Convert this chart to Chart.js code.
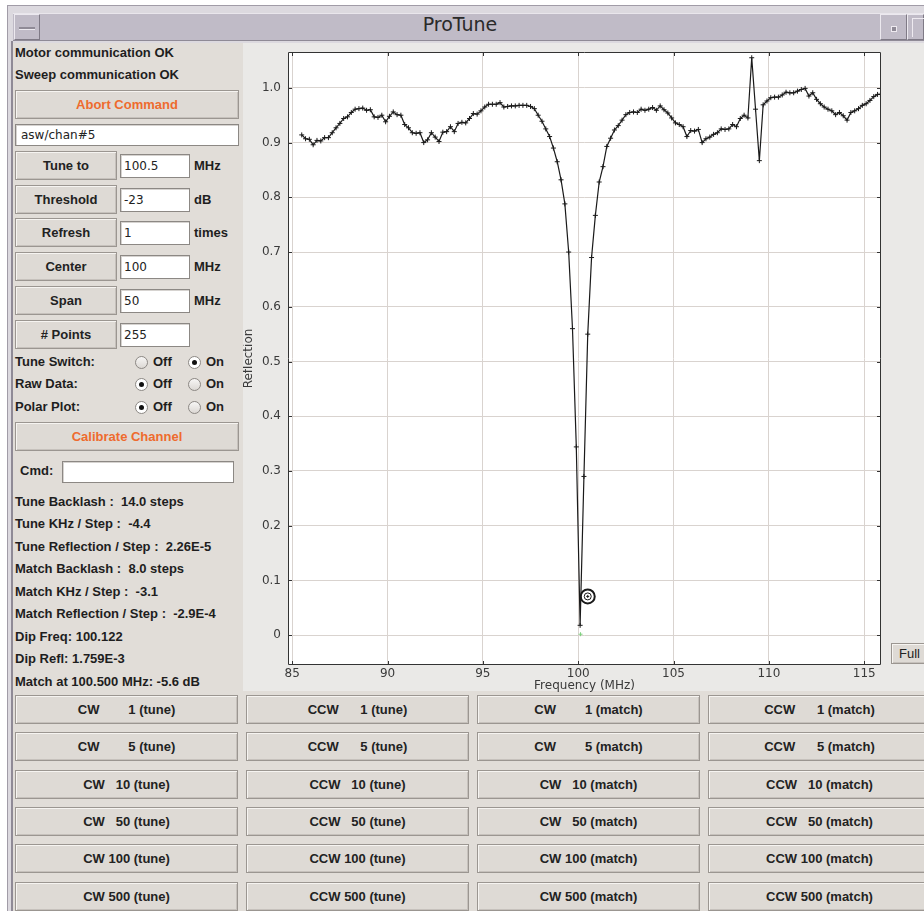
<!DOCTYPE html>
<html>
<head>
<meta charset="utf-8">
<title>ProTune</title>
<script src="https://cdn.jsdelivr.net/npm/chart.js@4.4.1/dist/chart.umd.min.js"></script>
<style>
  html, body { margin: 0; padding: 0; width: 924px; height: 911px; overflow: hidden; background: #ffffff; }
  body { position: relative; font-family: "Liberation Sans", Arial, sans-serif; color: #1e1e1e; }
  .abs { position: absolute; }
  .frame { left: 7px; top: 5px; width: 917px; height: 906px; background: #dcd9df; border-top: 1px solid #a19ca7; border-left: 1px solid #a19ca7; box-sizing: border-box; }
  .titlebar { left: 13px; top: 13px; width: 911px; height: 28px; background: #c0bbc7; border-top: 1px solid #e9e6ec; border-bottom: 1px solid #8f8a96; box-sizing: border-box; }
  .titletext { left: 13px; top: 13px; width: 894px; height: 28px; line-height: 28px; text-align: center; font: 19px "DejaVu Sans", sans-serif; color: #2a2a2a; }
  .wbtn { top: 14px; height: 26px; background: #c0bbc7; border: 1px solid; border-color: #ece9ef #7f7a86 #7f7a86 #ece9ef; box-sizing: border-box; }
  .panel { left: 13px; top: 43px; width: 911px; height: 868px; background: #e1ddd8; }
  .sideline { left: 11px; top: 41px; width: 2px; height: 870px; background: #8f8a96; }
  .chartpanel { left: 243px; top: 43px; width: 681px; height: 648px; background: #eae9e7; }
  .btn { position: absolute; background: #dedad5; border: 1px solid #9b9691; box-shadow: inset 1px 1px 0 #f6f4f1, inset -1px -1px 0 #c6c1bc; box-sizing: border-box; display: flex; align-items: center; justify-content: center; font: bold 13px "Liberation Sans", Arial, sans-serif; white-space: pre; color: #222; }
  .orange { color: #ee6b2e; }
  .fld { position: absolute; background: #ffffff; border: 1px solid #8c8884; box-shadow: inset 1px 1px 0 #d6d3d0; box-sizing: border-box; font: 12px "DejaVu Sans", sans-serif; padding-left: 3px; display: flex; align-items: center; color: #222; }
  .lbl { position: absolute; font: bold 13px "Liberation Sans", Arial, sans-serif; white-space: pre; line-height: 16px; height: 16px; color: #1e1e1e; }
  .radio { position: absolute; width: 13px; height: 13px; border-radius: 50%; border: 1px solid #8c8884; background: linear-gradient(#f7f6f5, #dcd8d4); box-sizing: border-box; }
  .radio.on { background: #ffffff; }
  .radio.on::after { content: ''; position: absolute; left: 3px; top: 3px; width: 5px; height: 5px; border-radius: 50%; background: #111; }
  #grafico { position: absolute; left: 243px; top: 43px; }
</style>
</head>
<body>
<div class="abs frame"></div>
<div class="abs titlebar"></div>
<div class="abs wbtn" style="left:14px; width:26px;"></div>
<div class="abs" style="left:19px; top:27px; width:16px; height:2px; background:#8f8a96; border-bottom:1px solid #ece9ef;"></div>
<div class="abs titletext">ProTune</div>
<div class="abs wbtn" style="left:880px; width:27px;"></div>
<div class="abs" style="left:891px; top:26px; width:4px; height:4px; background:#8f8a96; border:1px solid #eeeaf0;"></div>
<div class="abs wbtn" style="left:907px; width:17px;"></div>
<div class="abs" style="left:912px; top:18px; width:12px; height:18px; border-left:1px solid #eeeaf0; border-top:1px solid #eeeaf0;"></div>

<div class="abs panel"></div>
<div class="abs sideline"></div>
<div class="abs chartpanel"></div>

<div id="left"></div>
<div id="bottom"></div>

<div class="btn" style="left:891px; top:643px; width:40px; height:21px; justify-content:flex-start; padding-left:7px; font-weight:normal;">Full</div>

<canvas id="grafico" width="647" height="649"></canvas>

<script>
// sweep data (MHz, reflection)
const freqs = [
  85.5, 85.7, 85.9, 86.1, 86.3, 86.5, 86.7, 86.9, 87.1, 87.3,
  87.5, 87.7, 87.9, 88.1, 88.3, 88.5, 88.7, 88.9, 89.1, 89.3,
  89.5, 89.7, 89.9, 90.1, 90.3, 90.5, 90.7, 90.9, 91.1, 91.3,
  91.5, 91.7, 91.9, 92.1, 92.3, 92.5, 92.7, 92.9, 93.1, 93.3,
  93.5, 93.7, 93.9, 94.1, 94.3, 94.5, 94.7, 94.9, 95.1, 95.3,
  95.5, 95.7, 95.9, 96.1, 96.3, 96.5, 96.7, 96.9, 97.1, 97.3,
  97.5, 97.7, 97.9, 98.1, 98.3, 98.5, 98.7, 98.9, 99.1, 99.3,
  99.5, 99.7, 99.9, 100.1, 100.3, 100.5, 100.7, 100.9, 101.1, 101.3,
  101.5, 101.7, 101.9, 102.1, 102.3, 102.5, 102.7, 102.9, 103.1, 103.3,
  103.5, 103.7, 103.9, 104.1, 104.3, 104.5, 104.7, 104.9, 105.1, 105.3,
  105.5, 105.7, 105.9, 106.1, 106.3, 106.5, 106.7, 106.9, 107.1, 107.3,
  107.5, 107.7, 107.9, 108.1, 108.3, 108.5, 108.7, 108.9, 109.1, 109.3,
  109.5, 109.7, 109.9, 110.1, 110.3, 110.5, 110.7, 110.9, 111.1, 111.3,
  111.5, 111.7, 111.9, 112.1, 112.3, 112.5, 112.7, 112.9, 113.1, 113.3,
  113.5, 113.7, 113.9, 114.1, 114.3, 114.5, 114.7, 114.9, 115.1, 115.3,
  115.5, 115.7, 115.85
];

const reflection = [
  0.914, 0.907, 0.906, 0.896, 0.904, 0.903, 0.909, 0.909, 0.918, 0.927,
  0.935, 0.944, 0.947, 0.955, 0.961, 0.962, 0.963, 0.959, 0.960, 0.947,
  0.946, 0.950, 0.938, 0.948, 0.956, 0.951, 0.950, 0.933, 0.927, 0.918,
  0.917, 0.918, 0.900, 0.905, 0.918, 0.910, 0.902, 0.919, 0.920, 0.929,
  0.920, 0.935, 0.937, 0.936, 0.944, 0.953, 0.952, 0.958, 0.965, 0.970,
  0.970, 0.970, 0.973, 0.965, 0.966, 0.967, 0.967, 0.968, 0.968, 0.968,
  0.966, 0.962, 0.950, 0.939, 0.925, 0.911, 0.890, 0.865, 0.832, 0.788,
  0.700, 0.560, 0.344, 0.018, 0.290, 0.550, 0.690, 0.767, 0.828, 0.856,
  0.893, 0.908, 0.923, 0.931, 0.941, 0.951, 0.955, 0.956, 0.955, 0.961,
  0.959, 0.961, 0.964, 0.959, 0.967, 0.960, 0.954, 0.945, 0.936, 0.933,
  0.929, 0.911, 0.922, 0.921, 0.924, 0.900, 0.907, 0.910, 0.915, 0.918,
  0.925, 0.924, 0.925, 0.933, 0.929, 0.944, 0.950, 0.945, 1.055, 0.961,
  0.867, 0.969, 0.976, 0.982, 0.983, 0.983, 0.987, 0.992, 0.991, 0.991,
  0.994, 0.997, 0.999, 0.985, 0.991, 0.979, 0.971, 0.965, 0.961, 0.958,
  0.951, 0.955, 0.949, 0.941, 0.955, 0.958, 0.962, 0.968, 0.971, 0.977,
  0.984, 0.988, 0.988
];

// tune target (100.5 MHz, -23 dB threshold) and fitted dip
const target = { x: 100.5, y: 0.0708 };
const dip = { x: 100.122, y: 0.001759 };

const xTicks = [85, 90, 95, 100, 105, 110, 115];
const xTickLabels = ['85', '90', '95', '100', '105', '110', '115'];
const yTicks = [0, 0.1, 0.2, 0.3, 0.4, 0.5, 0.6, 0.7, 0.8, 0.9, 1.0];
const yTickLabels = ['0', '0.1', '0.2', '0.3', '0.4', '0.5', '0.6', '0.7', '0.8', '0.9', '1.0'];

// left panel
const statusLines = ['Motor communication OK', 'Sweep communication OK'];
const paramRows = [
  { name: 'Tune to', value: '100.5', unit: 'MHz', top: 151 },
  { name: 'Threshold', value: '-23', unit: 'dB', top: 185 },
  { name: 'Refresh', value: '1', unit: 'times', top: 218 },
  { name: 'Center', value: '100', unit: 'MHz', top: 252 },
  { name: 'Span', value: '50', unit: 'MHz', top: 286 },
  { name: '# Points', value: '255', unit: '', top: 320 }
];
const radioRows = [
  { name: 'Tune Switch:', on: true, y: 362 },
  { name: 'Raw Data:', on: false, y: 384 },
  { name: 'Polar Plot:', on: false, y: 407 }
];
const statsLines = [
  'Tune Backlash :  14.0 steps',
  'Tune KHz / Step :  -4.4',
  'Tune Reflection / Step :  2.26E-5',
  'Match Backlash :  8.0 steps',
  'Match KHz / Step :  -3.1',
  'Match Reflection / Step :  -2.9E-4',
  'Dip Freq: 100.122',
  'Dip Refl: 1.759E-3',
  'Match at 100.500 MHz: -5.6 dB'
];

// motor buttons
const stepCounts = [1, 5, 10, 50, 100, 500];
const buttonColumns = [
  { dir: 'CW', kind: 'tune', pads: [8, 8, 3, 3, 1, 1] },
  { dir: 'CCW', kind: 'tune', pads: [6, 6, 3, 3, 1, 1] },
  { dir: 'CW', kind: 'match', pads: [8, 8, 3, 3, 1, 1] },
  { dir: 'CCW', kind: 'match', pads: [6, 6, 3, 3, 1, 1] }
];
const columnLeft = [15, 246, 477, 708];
const rowTop = [695, 732, 770, 807, 844, 882];

function addEl(parent, cls, style, text) {
  const el = document.createElement('div');
  el.className = cls;
  el.style.cssText = style;
  if (text !== undefined) el.textContent = text;
  parent.appendChild(el);
  return el;
}

function buildPanel() {
  const left = document.getElementById('left');

  statusLines.forEach((t, i) => addEl(left, 'lbl', `left:15px; top:${45 + i * 22}px;`, t));
  addEl(left, 'btn orange', 'left:15px; top:90px; width:224px; height:29px;', 'Abort Command');
  addEl(left, 'fld', 'left:15px; top:124px; width:224px; height:22px; padding-left:5px;', 'asw/chan#5');

  paramRows.forEach((r) => {
    addEl(left, 'btn', `left:15px; top:${r.top}px; width:102px; height:29px;`, r.name);
    addEl(left, 'fld', `left:120px; top:${r.top + 3}px; width:70px; height:24px;`, r.value);
    addEl(left, 'lbl', `left:194px; top:${r.top + 7}px;`, r.unit);
  });

  radioRows.forEach((r) => {
    addEl(left, 'lbl', `left:15px; top:${r.y - 8}px;`, r.name);
    addEl(left, r.on ? 'radio' : 'radio on', `left:135px; top:${r.y - 6}px;`);
    addEl(left, 'lbl', `left:153px; top:${r.y - 8}px;`, 'Off');
    addEl(left, r.on ? 'radio on' : 'radio', `left:188px; top:${r.y - 6}px;`);
    addEl(left, 'lbl', `left:206px; top:${r.y - 8}px;`, 'On');
  });

  addEl(left, 'btn orange', 'left:15px; top:422px; width:224px; height:29px;', 'Calibrate Channel');
  addEl(left, 'lbl', 'left:20px; top:463px;', 'Cmd:');
  addEl(left, 'fld', 'left:62px; top:461px; width:172px; height:22px;', '');

  statsLines.forEach((t, i) => addEl(left, 'lbl', `left:15px; top:${494 + i * 22.45}px;`, t));

  const bottom = document.getElementById('bottom');
  buttonColumns.forEach((c, ci) => {
    stepCounts.forEach((n, ri) => {
      const label = c.dir + ' '.repeat(c.pads[ri]) + n + ' (' + c.kind + ')';
      addEl(bottom, 'btn', `left:${columnLeft[ci]}px; top:${rowTop[ri]}px; width:223px; height:29px;`, label);
    });
  });
}

// white plot background, then frame with inward tick marks like the Java plot
const frame = {
  id: 'frame',
  beforeDraw(chart) {
    const { ctx, chartArea: a } = chart;
    ctx.save();
    ctx.fillStyle = '#ffffff';
    ctx.fillRect(a.left, a.top, a.width, a.height);
    ctx.restore();
  },
  afterDatasetsDraw(chart) {
    const { ctx, chartArea: a, scales } = chart;
    ctx.save();
    ctx.strokeStyle = '#333333';
    ctx.lineWidth = 1;
    ctx.beginPath();
    ctx.rect(a.left + 0.5, a.top + 0.5, a.width - 1, a.height - 1);
    scales.x.ticks.forEach((t) => {
      const px = Math.round(scales.x.getPixelForValue(t.value)) + 0.5;
      ctx.moveTo(px, a.bottom);
      ctx.lineTo(px, a.bottom - 4);
      ctx.moveTo(px, a.top);
      ctx.lineTo(px, a.top + 4);
    });
    scales.y.ticks.forEach((t) => {
      const py = Math.round(scales.y.getPixelForValue(t.value)) + 0.5;
      ctx.moveTo(a.left, py);
      ctx.lineTo(a.left + 4, py);
      ctx.moveTo(a.right, py);
      ctx.lineTo(a.right - 4, py);
    });
    ctx.stroke();
    ctx.restore();
  }
};

let currentChart = null;

function drawChart() {
  const points = freqs.map((f, i) => ({ x: f, y: reflection[i] }));

  Chart.defaults.font.family = '"DejaVu Sans", sans-serif';
  Chart.defaults.font.size = 12;
  Chart.defaults.color = '#3a3a3a';

  const ctx = document.getElementById('grafico').getContext('2d');

  if (currentChart !== null) {
    currentChart.destroy();
  }

  currentChart = new Chart(ctx, {
    type: 'scatter',
    data: {
      datasets: [
        {
          label: 'Reflection',
          data: points,
          showLine: true,
          borderColor: '#1a1a1a',
          borderWidth: 1.2,
          pointStyle: 'cross',
          pointRadius: 2.5,
          pointBorderWidth: 1,
          pointBorderColor: '#1a1a1a',
          tension: 0
        },
        {
          label: 'Dip',
          data: [dip],
          pointStyle: 'cross',
          pointRadius: 2,
          pointBorderWidth: 1,
          pointBorderColor: '#7fd07f'
        },
        {
          label: 'Target',
          data: [target],
          pointStyle: 'circle',
          pointRadius: 7,
          pointBorderWidth: 2,
          pointBorderColor: '#1a1a1a',
          pointBackgroundColor: 'rgba(255,255,255,0)'
        },
        {
          label: 'Target inner',
          data: [target],
          pointStyle: 'circle',
          pointRadius: 3.5,
          pointBorderWidth: 1,
          pointBorderColor: '#1a1a1a',
          pointBackgroundColor: '#ffffff'
        },
        {
          label: 'Target centre',
          data: [target],
          pointStyle: 'cross',
          pointRadius: 1.5,
          pointBorderWidth: 1,
          pointBorderColor: '#1a1a1a',
          order: -1
        }
      ]
    },
    options: {
      responsive: false,
      animation: false,
      layout: { padding: { left: 0, top: 3, right: 8, bottom: 0 } },
      plugins: {
        legend: { display: false },
        tooltip: { enabled: false }
      },
      scales: {
        x: {
          type: 'linear',
          min: 84.78,
          max: 115.88,
          afterBuildTicks: (s) => { s.ticks = xTicks.map((v) => ({ value: v })); },
          afterFit: (s) => { s.height = 27; s.paddingLeft = 0; s.paddingRight = 0; },
          ticks: {
            padding: 2,
            maxRotation: 0,
            autoSkip: false,
            callback: (v, i) => xTickLabels[i]
          },
          grid: { color: '#d9d3cf', drawTicks: false },
          border: { display: false },
          title: {
            display: true,
            text: 'Frequency (MHz)',
            font: { size: 12, lineHeight: 1 },
            padding: { top: 0, bottom: 0 }
          }
        },
        y: {
          type: 'linear',
          min: -0.0545,
          max: 1.0655,
          afterBuildTicks: (s) => { s.ticks = yTicks.map((v) => ({ value: v })); },
          afterFit: (s) => { s.width = 45; s.paddingTop = 0; s.paddingBottom = 0; },
          ticks: {
            padding: 7,
            autoSkip: false,
            callback: (v, i) => yTickLabels[i]
          },
          grid: { color: '#d9d3cf', drawTicks: false },
          border: { display: false },
          title: {
            display: true,
            text: 'Reflection',
            font: { size: 12, lineHeight: 1 },
            padding: { top: 0, bottom: 0 }
          }
        }
      }
    },
    plugins: [frame]
  });
}

buildPanel();
drawChart();
</script>
</body>
</html>
